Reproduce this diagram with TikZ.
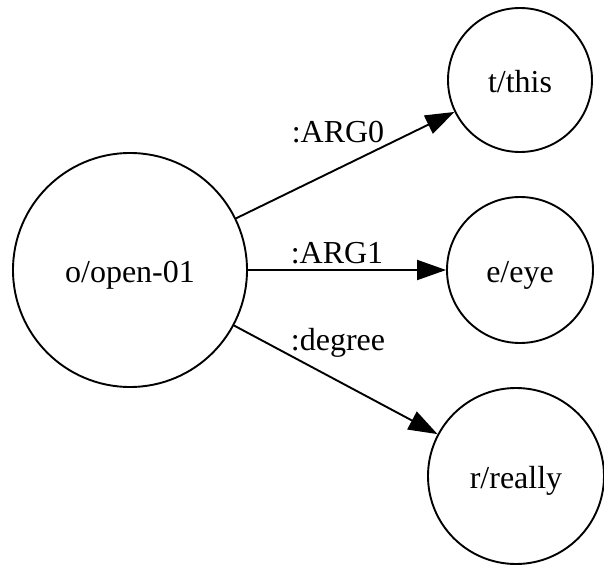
\documentclass[tikz,border=0pt]{standalone}
\usepackage{fontspec}
\setmainfont{Liberation Serif}
\usetikzlibrary{arrows.meta,positioning}

\begin{document}
\begin{tikzpicture}[x=1pt, y=-1pt, line width=1.9pt,
        concept/.style={draw, circle, inner sep=0pt, font=\fontsize{32}{38}\selectfont, text height=28.8pt, text depth=3.8pt},
        role/.style={anchor=base, font=\fontsize{32}{38}\selectfont},
        relation/.style={-{Triangle[length=29pt, width=20pt]}}]
        \useasboundingbox (0, 0) rectangle (604, 567);
        \node[concept, minimum size=234pt] (open) at (130, 270) {o/open-01};
        \node[concept, minimum size=144pt] (this) at (520, 80) {t/this};
        \node[concept, minimum size=146pt] (eye) at (520, 270) {e/eye};
        \node[concept, minimum size=176pt] (really) at (516, 476) {r/really};
        \draw[relation] (open) -- (this);
        \draw[relation] (open) -- (eye);
        \draw[relation] (open) -- (really);
        \node[role] (arg0) at (338, 142) {:ARG0};
        \node[role] (arg1) at (337, 263) {:ARG1};
        \node[role] (degree) at (338, 350) {:degree};
\end{tikzpicture}
\end{document}
